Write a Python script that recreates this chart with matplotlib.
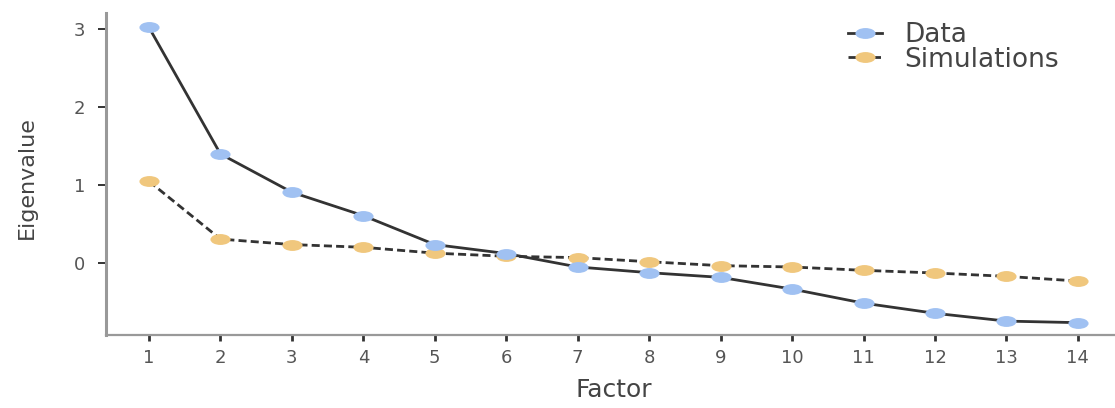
import numpy as np
import matplotlib
matplotlib.use("Agg")
import matplotlib.pyplot as plt
from matplotlib.path import Path
from matplotlib.transforms import Affine2D

factors = list(range(1, 15))
data_eigen = [3.02, 1.40, 0.91, 0.61, 0.24, 0.125, -0.047, -0.12, -0.18,
              -0.33, -0.51, -0.64, -0.74, -0.76]
sim_eigen = [1.05, 0.31, 0.24, 0.205, 0.13, 0.09, 0.073, 0.02, -0.03,
             -0.047, -0.09, -0.124, -0.167, -0.227]
y_ticks = [0, 1, 2, 3]
series_labels = ["Data", "Simulations"]

plt.rcParams['font.family'] = ['DejaVu Sans']

blue = "#A0C1F2"
orange = "#F0C77D"
line_col = "#333333"

ellipse = Path.unit_circle().transformed(Affine2D().scale(1.85, 1.0))

fig = plt.figure(figsize=(11.15, 4.08), dpi=100)
ax = fig.add_axes([106/1115, 1 - 335/408, 1 - 106/1115, (335 - 13)/408])

ax.plot(factors, sim_eigen, linestyle=(0, (2.9, 1.5)), color=line_col, lw=2.0,
        marker=ellipse, markersize=14.5, markerfacecolor=orange,
        markeredgewidth=0, label=series_labels[1], zorder=2)
ax.plot(factors, data_eigen, linestyle='-', color=line_col, lw=2.0,
        marker=ellipse, markersize=14.5, markerfacecolor=blue,
        markeredgewidth=0, label=series_labels[0], zorder=3)

ax.set_xlim(0.398, 14.52)
ax.set_ylim(-0.918, 3.205)
ax.set_xticks(factors)
ax.set_yticks(y_ticks)

for s in ['top', 'right']:
    ax.spines[s].set_visible(False)
ax.spines['left'].set_color('#999999')
ax.spines['left'].set_linewidth(2.2)
ax.spines['bottom'].set_color('#999999')
ax.spines['bottom'].set_linewidth(1.6)

ax.tick_params(axis='y', length=6, width=1.4, color='#333333', pad=9,
               labelsize=13, labelcolor='#555555')
ax.tick_params(axis='x', length=4, width=2.0, color='#333333', pad=6,
               labelsize=13, labelcolor='#555555')

ax.set_xlabel("Factor", fontsize=18, color='#444444', va='center')
ax.xaxis.set_label_coords(0.503, -0.171)
ax.set_ylabel("Eigenvalue", fontsize=16, color='#444444', va='center')
ax.yaxis.set_label_coords(-0.0783, 0.49)

handles, labels = ax.get_legend_handles_labels()
order = [1, 0]
leg = fig.legend([handles[i] for i in order], [labels[i] for i in order],
                 loc='upper left', bbox_to_anchor=(848/1115, 1 - 22/408),
                 frameon=False, fontsize=19, labelspacing=-0.05,
                 handlelength=1.3, handletextpad=0.85, borderpad=0,
                 borderaxespad=0)
for t in leg.get_texts():
    t.set_color('#444444')

fig.savefig("out.png", dpi=100)
